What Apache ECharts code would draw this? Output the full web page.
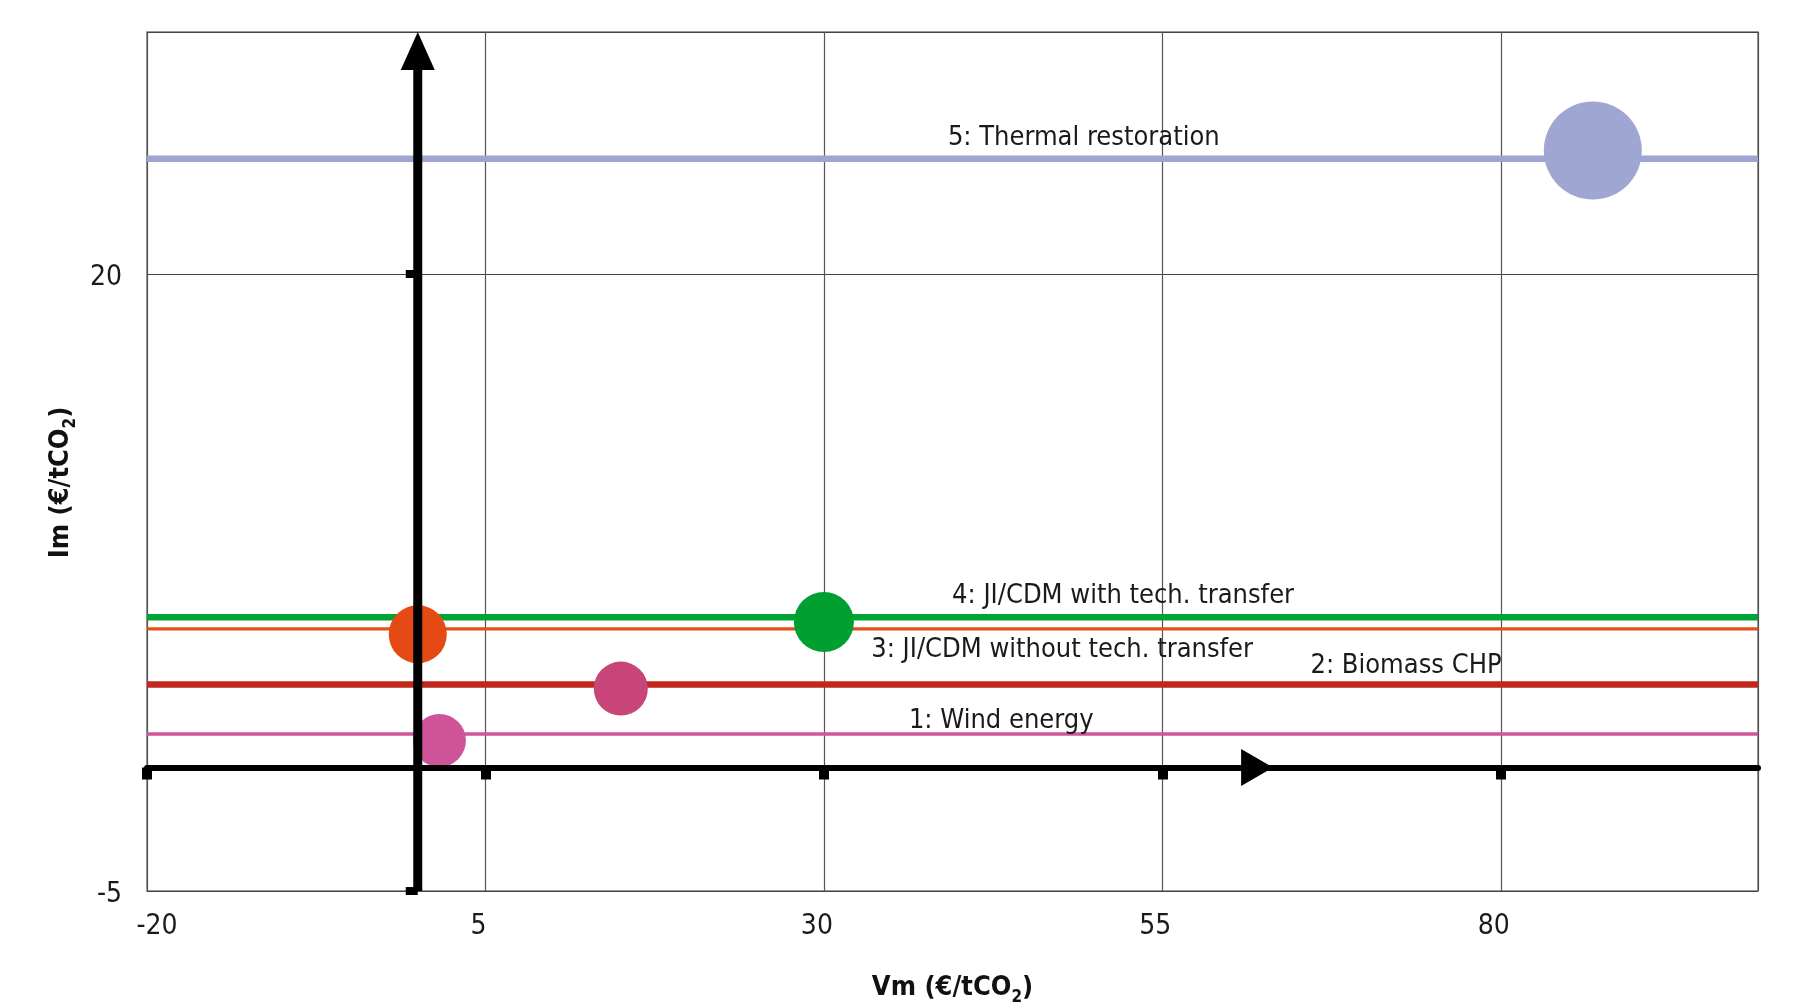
<!DOCTYPE html>
<html><head><meta charset="utf-8">
<script src="https://cdn.jsdelivr.net/npm/echarts@6/dist/echarts.min.js"></script>
<style>html,body{margin:0;padding:0;background:#fff}#c{width:1793px;height:1006px}</style>
</head><body><div id="c"></div>
<script>
// ---- data ----
const projects = ['1: Wind energy', '2: Biomass CHP', '3: JI/CDM without tech. transfer', '4: JI/CDM with tech. transfer', '5: Thermal restoration'];
const bubbleVm = [1.6, 15.0, 0.0, 30.0, 86.8];
const bubbleIm = [1.1, 3.2, 5.4, 5.9, 25.0];
const bubbleSize = [53, 54, 58, 60, 98];
const lineIm = [1.36, 3.37, 5.62, 6.09, 24.67];
const labelVm = [43.1, 73.0, 47.6, 52.1, 49.2];
const xTicks = [-20, 5, 30, 55, 80];
const yTicks = [-5, 20];
const xRange = [-20, 99];
const yRange = [-5, 29.8];
const axisArrowVm = [62];     // position of the arrowhead on the horizontal axis
const axisArrowBaseIm = 29;   // where the vertical axis shaft ends under its arrowhead

// ---- styles ----
const FONT = "'DejaVu Sans Condensed', 'Liberation Sans Narrow', 'Arial Narrow', sans-serif";
const lineColors = ['#D0559A', '#C0281E', '#E84E1B', '#00A335', '#9DA5D0'];
const lineWidths = [3.3, 6.5, 3.3, 6.5, 6.5];
const bubbleColors = ['#CF5398', '#C8457A', '#E64A14', '#00A030', '#9EA6D1'];
const labelPlace = ['top', 'top', 'bottom', 'top', 'top'];
const labelDist = [-1, 4, 7, 7, 7];
const TXT = '#1a1a1a';

const chart = echarts.init(document.getElementById('c'), null, {renderer: 'canvas'});

const series = [];
projects.forEach((p, i) => {
  series.push({
    type: 'line', xAxisIndex: 0, yAxisIndex: 0, silent: true, symbol: 'none', z: 2,
    data: [[xRange[0], lineIm[i]], [xRange[1], lineIm[i]]],
    lineStyle: {color: lineColors[i], width: lineWidths[i]}
  });
});
series.push({
  type: 'scatter', xAxisIndex: 0, yAxisIndex: 0, silent: true, z: 3,
  symbolSize: v => v[2],
  data: bubbleVm.map((x, i) => ({value: [x, bubbleIm[i], bubbleSize[i]], itemStyle: {color: bubbleColors[i], opacity: 1}}))
});
series.push({
  type: 'scatter', xAxisIndex: 0, yAxisIndex: 0, silent: true, z: 4,
  symbolSize: 1, itemStyle: {color: 'rgba(0,0,0,0)'},
  data: labelVm.map((x, i) => ({
    value: [x, lineIm[i]],
    label: {show: true, position: labelPlace[i], distance: labelDist[i], formatter: projects[i],
      fontFamily: FONT, fontSize: 27, color: TXT, opacity: 1}
  }))
});
// vertical axis shaft (x = 0) and its arrowhead
series.push({
  type: 'line', xAxisIndex: 0, yAxisIndex: 0, silent: true, symbol: 'none', z: 19,
  data: [[0, yRange[0]], [0, axisArrowBaseIm]],
  lineStyle: {color: '#000', width: 9}
});
series.push({
  type: 'scatter', xAxisIndex: 0, yAxisIndex: 0, silent: true, z: 20,
  symbol: 'triangle', symbolSize: [34, 38], symbolOffset: [0, 19],
  itemStyle: {color: '#000', opacity: 1},
  data: [[0, yRange[1]]]
});
// arrowhead on horizontal axis
series.push({
  type: 'scatter', xAxisIndex: 0, yAxisIndex: 0, silent: true, z: 20,
  symbol: 'triangle', symbolRotate: -90, symbolSize: [37, 32],
  itemStyle: {color: '#000', opacity: 1},
  data: axisArrowVm.map(x => [x, 0])
});

const labelRich = {
  a: {fontFamily: FONT, fontSize: 28, color: TXT, padding: [0, 0, 0, 20]},
  b: {fontFamily: FONT, fontSize: 28, color: TXT, padding: [0, 14, 0, 0]},
  y: {fontFamily: FONT, fontSize: 28, color: TXT, padding: [7, 0, 0, 0]}
};
const nameRich = {
  t: {fontFamily: FONT, fontSize: 27, fontWeight: 'bold', color: '#111', lineHeight: 36},
  s: {fontFamily: FONT, fontSize: 17, fontWeight: 'bold', color: '#111', lineHeight: 18, verticalAlign: 'bottom'}
};

const option = {
  backgroundColor: '#fff',
  animation: false,
  grid: {left: 147, right: 35, top: 32, bottom: 115, show: true, borderColor: '#777', borderWidth: 1.5, backgroundColor: '#fff', containLabel: false, outerBoundsMode: 'none'},
  xAxis: [
    {
      type: 'value', min: xRange[0], max: xRange[1], interval: 25, position: 'bottom',
      axisLine: {show: false, onZero: false}, axisTick: {show: false},
      splitLine: {show: true, lineStyle: {color: '#555', width: 1.2}},
      axisLabel: {showMaxLabel: false, margin: 22, fontFamily: FONT, fontSize: 28, color: TXT,
        formatter: v => (v === xRange[0] ? '{a|' + v + '}' : '{b|' + v + '}'), rich: labelRich},
      name: '{t|Vm (€/tCO}{s|2}{t|)}', nameLocation: 'middle', nameGap: 79,
      nameTextStyle: {rich: nameRich}
    },
    {
      type: 'value', min: xRange[0], max: xRange[1], interval: 25, position: 'bottom', z: 10,
      axisLine: {show: true, onZero: true, onZeroAxisIndex: 0, lineStyle: {color: '#000', width: 6}},
      axisTick: {show: true, customValues: xTicks, length: 12, lineStyle: {color: '#000', width: 10}},
      axisLabel: {show: false}, splitLine: {show: false}
    }
  ],
  yAxis: [
    {
      type: 'value', min: yRange[0], max: yRange[1], interval: 25, position: 'left',
      axisLine: {show: false, onZero: false}, axisTick: {show: false},
      splitLine: {show: true, lineStyle: {color: '#444', width: 1.2}},
      axisLabel: {showMaxLabel: false, margin: 25, fontFamily: FONT, fontSize: 28, color: TXT,
        formatter: v => '{y|' + v + '}', rich: labelRich},
      name: '{t|Im (€/tCO}{s|2}{t|)}', nameLocation: 'middle', nameGap: 54, nameRotate: 90,
      nameTextStyle: {rich: nameRich, padding: [0, 42, 0, 0]}
    },
    {
      type: 'value', min: yRange[0], max: yRange[1], interval: 25, position: 'left', z: 10,
      axisLine: {show: true, onZero: true, onZeroAxisIndex: 0, lineStyle: {color: 'rgba(0,0,0,0)', width: 1}},
      axisTick: {show: true, customValues: yTicks, length: 12, lineStyle: {color: '#000', width: 8}},
      axisLabel: {show: false}, splitLine: {show: false}
    }
  ],
  series: series
};
chart.setOption(option);
</script>
</body></html>
